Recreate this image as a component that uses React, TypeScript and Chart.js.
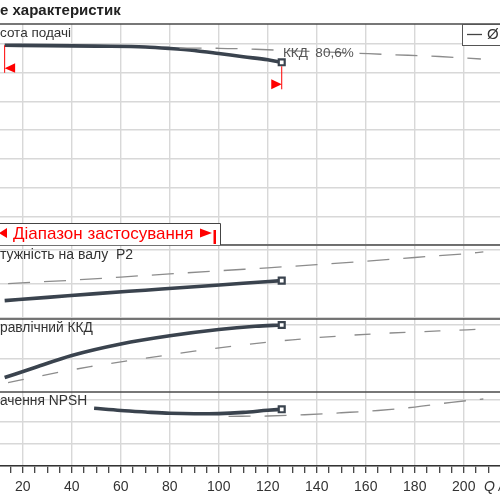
import React, { useEffect, useRef } from 'react';
import { Chart, registerables } from 'chart.js';

Chart.register(...registerables);

// ---------- Flow axis (Q, m³/h) ----------
const qViewMin = 10.7;
const qViewMax = 214.8;
const qTickStep = 5;
const qLabelStep = 20;

// ---------- Head (м) ----------
const headQ = [12.6, 30, 50, 70, 80, 90, 100, 110, 120, 125.7];
const headH = [34.79, 34.74, 34.64, 34.5, 34.24, 33.89, 33.36, 32.79, 32.27, 31.83];
const headMaxQ = [84, 100, 115, 130, 150, 170, 190, 207];
const headMaxH = [34.29, 34.27, 34.1, 33.83, 33.52, 33.17, 32.84, 32.4];

// ---------- Shaft power P2 (кВт) ----------
const p2Q = [12.6, 30, 50, 70, 90, 110, 125.7];
const p2P = [12.56, 13.03, 13.59, 14.09, 14.59, 15.12, 15.49];
const p2MaxQ = [14, 40, 70, 100, 120, 140, 160, 180, 200, 208];
const p2MaxP = [15.06, 15.56, 16.25, 16.94, 17.38, 17.84, 18.34, 18.9, 19.44, 19.71];

// ---------- Hydraulic efficiency (%) ----------
const etaQ = [12.6, 25, 40, 60, 80, 100, 115, 125.7];
const etaE = [49.1, 55.0, 62.06, 68.82, 73.65, 77.35, 79.24, 80.0];
const etaMaxQ = [14, 27, 47.5, 65, 90, 110, 130, 150, 170, 190, 207];
const etaMaxE = [46.1, 50.0, 55.5, 59.4, 64.6, 68.3, 71.3, 73.6, 75.3, 76.5, 77.5];

// ---------- NPSH (м) ----------
const npshQ = [49.1, 60, 70, 80, 90, 100, 110, 120, 125.7];
const npshN = [5.245, 5.045, 4.909, 4.79, 4.745, 4.764, 4.873, 5.064, 5.155];
const npshMaxQ = [104, 120, 135, 150, 165, 180, 195, 208];
const npshMaxN = [4.52, 4.545, 4.66, 4.84, 5.045, 5.36, 5.79, 6.09];

// ---------- Texts ----------
const titleText = 'е характеристик';
const headLabel = 'сота подачі';
const p2Label = 'тужність на валу  P2';
const etaLabel = 'равлічний ККД';
const npshLabel = 'ачення NPSH';
const rangeLabel = 'Діапазон застосування';
const effLabel = 'ККД  80,6%';
const legendLabel = 'Ø';
const qAxisLabel = 'Q /';

const FONT = '"Liberation Sans", Arial, sans-serif';
const SOLID = '#3a434e';
const DASH = '#8c8c8c';
const GRID = '#d8d8d8';
const RED = '#ff0000';

const pts = (qs: number[], vs: number[]) => qs.map((q, i) => ({ x: q, y: vs[i] }));

const solid = (label: string, data: any[], yAxisID: string) => ({
  label,
  data,
  yAxisID,
  borderColor: SOLID,
  borderWidth: 3.6,
  cubicInterpolationMode: 'monotone',
  fill: false,
  pointStyle: 'rect',
  pointRadius: (c: any) => (c.dataIndex === data.length - 1 ? 4.2 : 0),
  pointBackgroundColor: '#ffffff',
  pointBorderColor: SOLID,
  pointBorderWidth: 2.2,
  clip: false,
});

const dashed = (label: string, data: any[], yAxisID: string, dash: number[]) => ({
  label,
  data,
  yAxisID,
  borderColor: DASH,
  borderWidth: 1.3,
  borderDash: dash,
  cubicInterpolationMode: 'monotone',
  fill: false,
  pointRadius: 0,
});

const yPanel = (min: number, max: number, step: number, weight: number, order: number) => ({
  type: 'linear',
  position: 'left',
  stack: 'panels',
  stackWeight: weight,
  weight: order,
  min,
  max,
  ticks: { display: false, stepSize: step, includeBounds: false },
  grid: { color: GRID, lineWidth: 1.4, drawTicks: false },
  border: { display: false },
  afterFit: (s: any) => {
    s.width = 0;
    s.paddingLeft = 0;
    s.paddingRight = 0;
    s.paddingTop = 0;
    s.paddingBottom = 0;
  },
});

const overlay = {
  id: 'overlay',
  beforeDatasetsDraw(chart: any) {
    const { ctx, chartArea: ca, scales } = chart;
    ctx.save();
    ctx.strokeStyle = '#4a4a4a';
    ctx.lineWidth = 1.5;
    ['yHead', 'yP2', 'yEta', 'yNpsh'].forEach((id) => {
      const y = Math.round(scales[id].top);
      ctx.beginPath();
      ctx.moveTo(ca.left, y);
      ctx.lineTo(ca.right, y);
      ctx.stroke();
    });
    ctx.restore();
  },
  afterDatasetsDraw(chart: any) {
    const { ctx, chartArea: ca, scales } = chart;
    const x = scales.x;
    const yH = scales.yHead;
    ctx.save();

    // title
    ctx.fillStyle = '#222';
    ctx.textBaseline = 'middle';
    ctx.textAlign = 'left';
    ctx.font = `bold 15px ${FONT}`;
    ctx.fillText(titleText, 0, 10.5);

    // panel labels
    ctx.fillStyle = '#333';
    ctx.font = `13.5px ${FONT}`;
    ctx.fillText(headLabel, 0, scales.yHead.top + 9);
    ctx.font = `14px ${FONT}`;
    ctx.fillText(p2Label, 0, scales.yP2.top + 10);
    ctx.font = `13.8px ${FONT}`;
    ctx.fillText(etaLabel, 0, scales.yEta.top + 9);
    ctx.fillText(npshLabel, 0, scales.yNpsh.top + 9);

    // efficiency label
    ctx.fillStyle = '#555';
    ctx.font = `13.5px ${FONT}`;
    ctx.fillText(effLabel, 283, 53);

    // legend box
    ctx.fillStyle = '#fff';
    ctx.fillRect(462, ca.top, 50, 21);
    ctx.strokeStyle = '#555';
    ctx.lineWidth = 1;
    ctx.strokeRect(462.5, ca.top + 0.5, 50, 21);
    ctx.strokeStyle = '#444';
    ctx.lineWidth = 1.3;
    ctx.beginPath();
    ctx.moveTo(467, 34.5);
    ctx.lineTo(482, 34.5);
    ctx.stroke();
    ctx.fillStyle = '#333';
    ctx.font = `15px ${FONT}`;
    ctx.fillText(legendLabel, 487, 35);

    // range box
    const bTop = 223;
    const bBot = yH.bottom;
    const bRight = 220;
    ctx.fillStyle = '#fff';
    ctx.fillRect(-2, bTop, bRight + 2, bBot - bTop);
    ctx.strokeStyle = '#444';
    ctx.lineWidth = 1;
    ctx.beginPath();
    ctx.moveTo(-2, bTop + 0.5);
    ctx.lineTo(bRight + 0.5, bTop + 0.5);
    ctx.lineTo(bRight + 0.5, bBot);
    ctx.stroke();
    ctx.fillStyle = RED;
    ctx.font = `17px ${FONT}`;
    ctx.fillText(rangeLabel, 13, 234);
    ctx.beginPath();
    ctx.moveTo(-1, 233);
    ctx.lineTo(7, 228);
    ctx.lineTo(7, 238);
    ctx.closePath();
    ctx.fill();
    ctx.beginPath();
    ctx.moveTo(212, 233);
    ctx.lineTo(200, 228.5);
    ctx.lineTo(200, 237.5);
    ctx.closePath();
    ctx.fill();
    ctx.fillRect(213.5, 230, 2.5, 14);

    // red operating range markers
    const xl = x.getPixelForValue(headQ[0]);
    const yl = yH.getPixelForValue(headH[0]);
    const xr = x.getPixelForValue(headQ[headQ.length - 1]);
    const yr = yH.getPixelForValue(headH[headH.length - 1]);
    ctx.strokeStyle = RED;
    ctx.lineWidth = 1;
    ctx.beginPath();
    ctx.moveTo(xl, yl);
    ctx.lineTo(xl, yl + 27.5);
    ctx.moveTo(xr, yr + 4);
    ctx.lineTo(xr, yr + 27);
    ctx.stroke();
    ctx.fillStyle = RED;
    ctx.beginPath();
    ctx.moveTo(xl, yl + 23);
    ctx.lineTo(xl + 10.5, yl + 18);
    ctx.lineTo(xl + 10.5, yl + 27.5);
    ctx.closePath();
    ctx.fill();
    ctx.beginPath();
    ctx.moveTo(xr, yr + 22);
    ctx.lineTo(xr - 10.5, yr + 17);
    ctx.lineTo(xr - 10.5, yr + 27);
    ctx.closePath();
    ctx.fill();

    // Q axis label
    ctx.fillStyle = '#333';
    ctx.font = `italic 14px ${FONT}`;
    ctx.fillText(qAxisLabel, 484, 487);

    ctx.restore();
  },
};

export default function App() {
  const ref = useRef<HTMLCanvasElement | null>(null);

  useEffect(() => {
    if (!ref.current) return;
    const chart = new Chart(ref.current, {
      type: 'line',
      data: {
        datasets: [
          dashed('H max', pts(headMaxQ, headMaxH), 'yHead', [22, 14]),
          solid('H', pts(headQ, headH), 'yHead'),
          dashed('P2 max', pts(p2MaxQ, p2MaxP), 'yP2', [22, 14]),
          solid('P2', pts(p2Q, p2P), 'yP2'),
          dashed('eta max', pts(etaMaxQ, etaMaxE), 'yEta', [16, 19]),
          solid('eta', pts(etaQ, etaE), 'yEta'),
          dashed('NPSH max', pts(npshMaxQ, npshMaxN), 'yNpsh', [22, 14]),
          solid('NPSH', pts(npshQ, npshN), 'yNpsh'),
        ] as any,
      },
      options: {
        animation: false,
        responsive: false,
        events: [],
        layout: { autoPadding: false, padding: { top: 24, bottom: 0, left: 0, right: 0 } },
        plugins: { legend: { display: false }, tooltip: { enabled: false }, title: { display: false } },
        scales: {
          x: {
            type: 'linear',
            position: 'bottom',
            min: qViewMin,
            max: qViewMax,
            afterFit: (s: any) => {
              s.height = 34;
              s.paddingLeft = 0;
              s.paddingRight = 0;
            },
            ticks: {
              stepSize: qTickStep,
              autoSkip: false,
              includeBounds: false,
              maxRotation: 0,
              padding: 6,
              color: '#333',
              font: { family: FONT, size: 14 },
              callback: (v: any) => (Number(v) % qLabelStep === 0 ? String(v) : ''),
            },
            grid: {
              color: (c: any) => (c.tick && c.tick.value % qLabelStep === 0 ? GRID : 'rgba(0,0,0,0)'),
              lineWidth: 1.4,
              drawTicks: true,
              tickLength: 7,
              tickColor: '#333',
              tickWidth: 1.2,
            },
            border: { display: true, color: '#333', width: 1.5 },
          },
          yHead: yPanel(0, 38.5, 5, 221, 4),
          yP2: yPanel(9.853, 20.735, 5, 74, 3),
          yEta: yPanel(40.59, 83.53, 20, 73, 2),
          yNpsh: yPanel(0, 6.727, 2, 74, 1),
        } as any,
      },
      plugins: [overlay],
    } as any);
    return () => chart.destroy();
  }, []);

  return (
    <div style={{ position: 'absolute', left: 0, top: 0, width: 500, height: 500, background: '#fff' }}>
      <canvas ref={ref} width={500} height={500} style={{ display: 'block' }} />
    </div>
  );
}
